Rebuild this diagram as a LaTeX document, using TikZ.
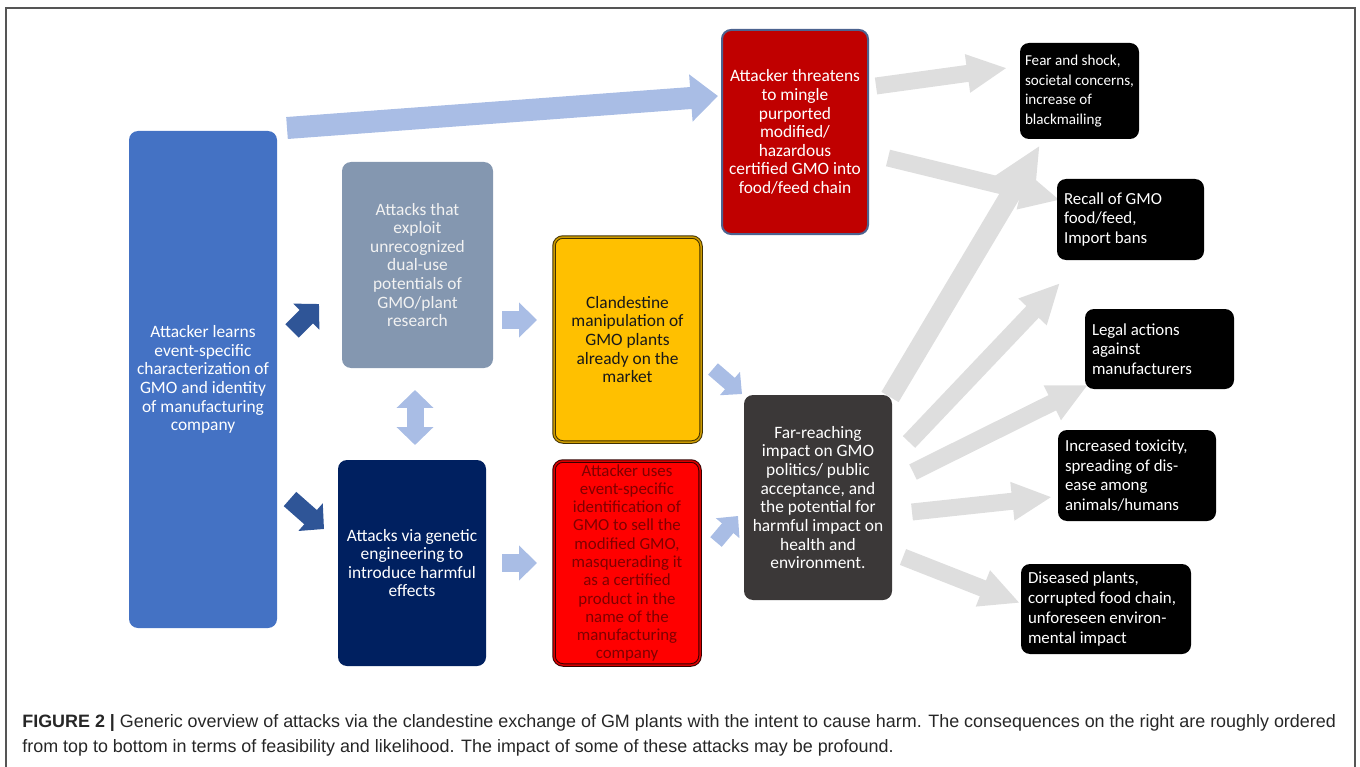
\documentclass[tikz,border=0pt]{standalone}
\usepackage{fontspec}
\setmainfont{Carlito}
\newfontfamily\capfont{Liberation Sans}
\usetikzlibrary{arrows.meta}

% 1 px of the reference = 0.02cm = 0.567pt
\newlength\unitpx \setlength\unitpx{0.02cm}
\newcommand\boxfont{\fontsize{9.9}{10.6}\selectfont}
\newcommand\outfont{\fontsize{9.6}{11.2}\selectfont}

\definecolor{learnblue}{HTML}{4472C4}
\definecolor{exploitgray}{HTML}{8497B0}
\definecolor{navybox}{HTML}{002060}
\definecolor{goldbox}{HTML}{FFC000}
\definecolor{threatred}{HTML}{C00000}
\definecolor{farbox}{HTML}{3B3838}
\definecolor{lightblue}{HTML}{A9BDE5}
\definecolor{darkblue}{HTML}{2F5597}
\definecolor{arrowgray}{HTML}{DEDEDE}
\definecolor{framegray}{HTML}{555555}

\tikzset{
  box/.style={rounded corners=9\unitpx, align=center, text=white, font=\boxfont, inner sep=2\unitpx},
  dims/.style 2 args={minimum width=#1\unitpx, minimum height=#2\unitpx},
  outcome/.style={box, fill=black, align=flush left, font=\outfont, inner xsep=7\unitpx},
  grayarrow/.style={draw=arrowgray, line width=17\unitpx, -{Triangle[length=22.7pt, width=20.4pt]}},
  lightarrow/.style={draw=lightblue, line width=18\unitpx, -{Triangle[length=10.2pt, width=19.3pt]}},
  darkarrow/.style={draw=darkblue, line width=19\unitpx, -{Triangle[length=10.2pt, width=20.4pt]}}
}

\begin{document}
\begin{tikzpicture}[x=0.02cm,y=-0.02cm]

\useasboundingbox (0,0) rectangle (1360,767);
\draw[framegray, line width=1.5\unitpx] (6,770) -- (6,8) -- (1355,8) -- (1355,770);

% fan of consequences
\coordinate (g1t) at (876,86);  \coordinate (g1h) at (1007,68);
\coordinate (g2t) at (888,158); \coordinate (g2h) at (1060,200);
\coordinate (g3t) at (890,397); \coordinate (g3h) at (1040,145);
\coordinate (g4t) at (909,442); \coordinate (g4h) at (1060,283);
\coordinate (g5t) at (913,472); \coordinate (g5h) at (1088,385);
\coordinate (g6t) at (912,512); \coordinate (g6h) at (1052,497);
\coordinate (g7t) at (903,557); \coordinate (g7h) at (1020,603);
\draw[grayarrow] (g1t) -- (g1h);
\draw[grayarrow] (g2t) -- (g2h);
\draw[grayarrow, line width=20\unitpx, -{Triangle[length=28.3pt, width=23.8pt]}] (g3t) -- (g3h);
\draw[grayarrow] (g4t) -- (g4h);
\draw[grayarrow] (g5t) -- (g5h);
\draw[grayarrow] (g6t) -- (g6h);
\draw[grayarrow] (g7t) -- (g7h);

% attack paths
\node[box, dims={148}{497}, fill=learnblue] (learn) at (203,379.5) {Attacker learns\\event-specific\\characterization of\\GMO and identity\\of manufacturing\\company};
\node[box, dims={151}{206}, fill=exploitgray, text=white!95!black] (exploit) at (417.5,265) {Attacks that\\exploit\\unrecognized\\dual-use\\potentials of\\GMO/plant\\research};
\node[box, dims={148}{206}, fill=navybox] (genetic) at (412,563) {Attacks via genetic\\engineering to\\introduce harmful\\effects};
\node[box, dims={147}{205}, fill=goldbox, text=black!90, draw=black!75!goldbox, line width=1\unitpx, double=goldbox!80!black, double distance=1.5\unitpx] (clandestine) at (627.5,339.5) {Clandestine\\manipulation of\\GMO plants\\already on the\\market};
\node[box, dims={146}{204}, fill=red, text=red!50!black, font=\fontsize{9.6}{10.4}\selectfont, draw=black!80!red, line width=1\unitpx, double=red!85!black, double distance=1.5\unitpx] (masq) at (627,563) {Attacker uses\\event-specific\\identification of\\GMO to sell the\\modified GMO,\\masquerading it\\as a certified\\product in the\\name of the\\manufacturing\\company};
\node[box, dims={146}{204}, fill=threatred, draw=navybox!70, line width=2\unitpx] (threat) at (795,132) {Attacker threatens\\to mingle\\purported\\modified/\\hazardous\\certified GMO into\\food/feed chain};
\node[box, dims={148}{205}, fill=farbox] (far) at (818,497.5) {Far-reaching\\impact on GMO\\politics/ public\\acceptance, and\\the potential for\\harmful impact on\\health and\\environment.};

% consequences
\node[outcome, dims={119}{96}, text width=109\unitpx, inner xsep=5\unitpx, font=\fontsize{8.6}{11.2}\selectfont] (fear) at (1079.5,91) {Fear and shock,\\societal concerns,\\increase of\\blackmailing};
\node[outcome, dims={147}{81}, text width=133\unitpx] (recall) at (1130.5,219.5) {Recall of GMO\\food/feed,\\Import bans};
\node[outcome, dims={149}{80}, text width=135\unitpx] (legal) at (1159.5,349) {Legal actions\\against\\manufacturers};
\node[outcome, dims={158}{91}, text width=144\unitpx] (toxic) at (1137,475.5) {Increased toxicity,\\spreading of dis-\\ease among\\animals/humans};
\node[outcome, dims={170}{90}, text width=156\unitpx] (disease) at (1106,609) {Diseased plants,\\corrupted food chain,\\unforeseen environ-\\mental impact};

% block arrows between the boxes
\coordinate (topt) at (287,128); \coordinate (toph) at (718,96);
\draw[lightarrow, line width=22\unitpx, -{Triangle[length=15.5pt, width=26pt]}] (topt) -- (toph);
\coordinate (d1t) at (292,331); \coordinate (d1h) at (319,304);
\draw[darkarrow] (d1t) -- (d1h);
\coordinate (d2t) at (290,499); \coordinate (d2h) at (324,529);
\draw[darkarrow] (d2t) -- (d2h);
\coordinate (l1t) at (502,320); \coordinate (l1h) at (537,320);
\draw[lightarrow] (l1t) -- (l1h);
\coordinate (l2t) at (502,563); \coordinate (l2h) at (537,563);
\draw[lightarrow] (l2t) -- (l2h);
\coordinate (v1t) at (415,390); \coordinate (v1h) at (415,445);
\draw[lightarrow, line width=17\unitpx, {Triangle[length=10.2pt, width=20.4pt]}-{Triangle[length=10.2pt, width=20.4pt]}] (v1t) -- (v1h);
\coordinate (l3t) at (713,369); \coordinate (l3h) at (742,394);
\draw[lightarrow, line width=15\unitpx, -{Triangle[length=9.1pt, width=17pt]}] (l3t) -- (l3h);
\coordinate (l4t) at (716,542); \coordinate (l4h) at (738,516);
\draw[lightarrow, line width=15\unitpx, -{Triangle[length=9.1pt, width=17pt]}] (l4t) -- (l4h);

% caption
\node[anchor=base west, inner sep=0, font=\capfont\fontsize{10.2}{13}\selectfont, text=black!85] (cap1) at (22,727) {\textbf{FIGURE 2 |} Generic overview of attacks via the clandestine exchange of GM plants with the intent to cause harm. The consequences on the right are roughly ordered};
\node[anchor=base west, inner sep=0, font=\capfont\fontsize{10.2}{13}\selectfont, text=black!85] (cap2) at (22,752) {from top to bottom in terms of feasibility and likelihood. The impact of some of these attacks may be profound.};

\end{tikzpicture}
\end{document}
